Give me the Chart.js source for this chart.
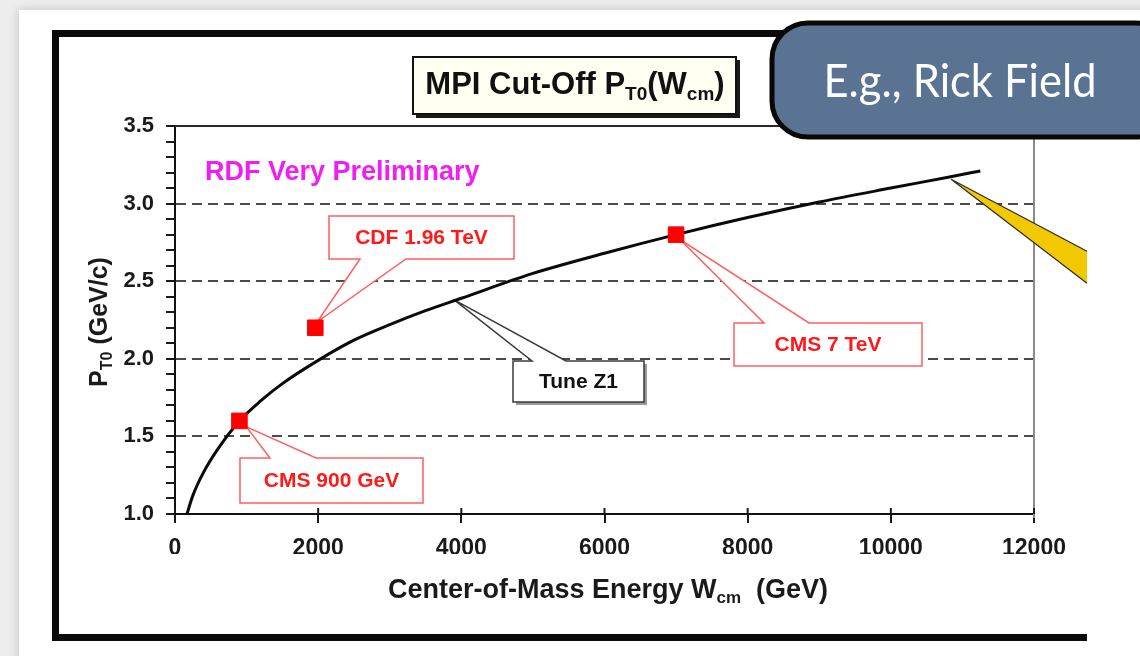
<!DOCTYPE html>
<html>
<head>
<meta charset="utf-8">
<script src="https://cdn.jsdelivr.net/npm/chart.js@4.4.1/dist/chart.umd.min.js"></script>
<style>
  html, body { margin: 0; padding: 0; background: #ffffff; }
  #cv { display: block; }
</style>
</head>
<body>
<canvas id="cv" width="1140" height="656"></canvas>
<script>
// Tune Z1 curve (GeV, GeV/c)
var tuneEnergy = [167, 250, 400, 600, 900, 1200, 1500, 2000, 2500, 3000, 3500, 4000, 5000, 6000, 7000, 8000, 9000, 10000, 10800, 11250];
var tunePt = [1.00, 1.12, 1.27, 1.42, 1.60, 1.73, 1.84, 1.99, 2.12, 2.22, 2.31, 2.39, 2.55, 2.68, 2.80, 2.91, 3.01, 3.10, 3.17, 3.21];

// measured points (red squares)
var measLabels = ['CMS 900 GeV', 'CDF 1.96 TeV', 'CMS 7 TeV'];
var measEnergy = [900, 1960, 7000];
var measPt = [1.6, 2.2, 2.8];

// axes
var xTicks = [0, 2000, 4000, 6000, 8000, 10000, 12000];
var yTicks = [1.0, 1.5, 2.0, 2.5, 3.0, 3.5];
var yDashed = [1.5, 2.0, 2.5, 3.0];

var FONT = '"Liberation Sans", Arial, Helvetica, sans-serif';

function isMajor(v) {
    return yTicks.some(function(t) { return Math.abs(t - v) < 1e-6; });
}
function isDashed(v) {
    return yDashed.some(function(t) { return Math.abs(t - v) < 1e-6; });
}

// text with subscripts: parts = [[text, isSub], ...]
function drawParts(ctx, parts, x, y, size, align, color) {
    var total = 0;
    parts.forEach(function(p) {
        ctx.font = 'bold ' + (p[1] ? Math.round(size * 0.62) : size) + 'px ' + FONT;
        total += ctx.measureText(p[0]).width;
    });
    var cx = align === 'center' ? x - total / 2 : x;
    ctx.fillStyle = color;
    ctx.textAlign = 'left';
    ctx.textBaseline = 'alphabetic';
    parts.forEach(function(p) {
        ctx.font = 'bold ' + (p[1] ? Math.round(size * 0.62) : size) + 'px ' + FONT;
        ctx.fillText(p[0], cx, p[1] ? y + size * 0.2 : y);
        cx += ctx.measureText(p[0]).width;
    });
}

// callout box with a wedge pointing at (tx, ty)
function callout(ctx, box, w1, w2, side, tx, ty, stroke, text, textColor) {
    var l = box[0], t = box[1], r = box[2], b = box[3];
    ctx.beginPath();
    if (side === 'top') {
        ctx.moveTo(l, t); ctx.lineTo(w1, t); ctx.lineTo(tx, ty); ctx.lineTo(w2, t);
        ctx.lineTo(r, t); ctx.lineTo(r, b); ctx.lineTo(l, b);
    } else {
        ctx.moveTo(l, t); ctx.lineTo(r, t); ctx.lineTo(r, b); ctx.lineTo(w2, b);
        ctx.lineTo(tx, ty); ctx.lineTo(w1, b); ctx.lineTo(l, b);
    }
    ctx.closePath();
    ctx.fillStyle = '#ffffff';
    ctx.fill();
    ctx.lineWidth = 1.5;
    ctx.strokeStyle = stroke;
    ctx.stroke();
    ctx.font = 'bold 21px ' + FONT;
    ctx.fillStyle = textColor;
    ctx.textAlign = 'center';
    ctx.textBaseline = 'middle';
    ctx.fillText(text, (l + r) / 2, (t + b) / 2 + 1);
}

var decor = {
    id: 'decor',
    beforeDraw: function(chart) {
        var ctx = chart.ctx;
        ctx.save();
        // slide background with soft edge
        ctx.fillStyle = '#ededed';
        ctx.fillRect(0, 0, 1140, 656);
        ctx.shadowColor = 'rgba(0,0,0,0.18)';
        ctx.shadowBlur = 10;
        ctx.fillStyle = '#ffffff';
        ctx.fillRect(19, 10, 1140, 660);
        ctx.restore();
        // black frame of the pasted figure
        ctx.save();
        ctx.fillStyle = '#0a0a0a';
        ctx.fillRect(52, 30, 7, 611);
        ctx.fillRect(52, 30, 760, 7);
        ctx.fillRect(52, 634, 1035, 7);
        ctx.restore();
    },
    beforeDatasetsDraw: function(chart) {
        var ctx = chart.ctx, a = chart.chartArea;
        var xs = chart.scales.x, ys = chart.scales.y;
        ctx.save();
        // top and right plot borders
        ctx.lineWidth = 2;
        ctx.strokeStyle = '#2a2a2a';
        ctx.beginPath(); ctx.moveTo(a.left, a.top); ctx.lineTo(a.right, a.top); ctx.stroke();
        ctx.strokeStyle = '#8a8a8a';
        ctx.beginPath(); ctx.moveTo(a.right, a.top); ctx.lineTo(a.right, a.bottom + 4); ctx.stroke();
        // x ticks also poke above the axis
        ctx.strokeStyle = '#1a1a1a';
        xTicks.forEach(function(v) {
            var px = xs.getPixelForValue(v);
            ctx.beginPath(); ctx.moveTo(px, a.bottom - 6); ctx.lineTo(px, a.bottom); ctx.stroke();
        });
        // callouts, tips anchored on the data
        var red = 'rgb(255,95,95)', redText = 'rgb(255,25,25)';
        var p0x = xs.getPixelForValue(measEnergy[0]), p0y = ys.getPixelForValue(measPt[0]);
        var p1x = xs.getPixelForValue(measEnergy[1]), p1y = ys.getPixelForValue(measPt[1]);
        var p2x = xs.getPixelForValue(measEnergy[2]), p2y = ys.getPixelForValue(measPt[2]);
        callout(ctx, [240, 458, 423, 503], 270, 316, 'top', p0x + 7, p0y + 6, red, measLabels[0], redText);
        callout(ctx, [329, 216, 514, 259], 360, 406, 'bottom', p1x + 2, p1y - 6, red, measLabels[1], redText);
        callout(ctx, [734, 323, 922, 366], 764, 809, 'top', p2x + 4, p2y + 5, red, measLabels[2], redText);
        // Tune Z1 callout with grey shadow
        var tx = xs.getPixelForValue(3900), ty = ys.getPixelForValue(2.38);
        ctx.fillStyle = '#9a9a9a';
        ctx.fillRect(516, 364, 131, 41);
        callout(ctx, [513, 361, 644, 402], 532, 566, 'top', tx, ty, '#3a3a3a', 'Tune Z1', '#111111');
        ctx.restore();
    },
    afterDatasetsDraw: function(chart) {
        var ctx = chart.ctx;
        var xs = chart.scales.x, ys = chart.scales.y;
        // yellow arrow pointing at the curve
        var tx = xs.getPixelForValue(10800) + 3, ty = ys.getPixelForValue(3.17) + 2;
        ctx.save();
        ctx.beginPath();
        ctx.moveTo(tx, ty);
        ctx.lineTo(1087, ty + 72);
        ctx.lineTo(1087, ty + 104);
        ctx.closePath();
        ctx.fillStyle = '#f2c900';
        ctx.fill();
        ctx.lineWidth = 1.2;
        ctx.strokeStyle = '#2a2a2a';
        ctx.beginPath();
        ctx.moveTo(1087, ty + 72); ctx.lineTo(tx, ty); ctx.lineTo(1087, ty + 104);
        ctx.stroke();
        ctx.restore();
    },
    afterDraw: function(chart) {
        var ctx = chart.ctx;
        ctx.save();
        // title box
        ctx.fillStyle = '#1a1a1a';
        ctx.fillRect(416, 60, 324, 58);
        ctx.fillStyle = '#fffff2';
        ctx.fillRect(413, 57, 323, 57);
        ctx.lineWidth = 2;
        ctx.strokeStyle = '#111111';
        ctx.strokeRect(413, 57, 323, 57);
        drawParts(ctx, [['MPI Cut-Off P', false], ['T0', true], ['(W', false], ['cm', true], [')', false]],
            575, 94, 31, 'center', '#111111');
        // watermark
        ctx.font = 'bold 27px ' + FONT;
        ctx.fillStyle = '#f01ef0';
        ctx.textAlign = 'left';
        ctx.textBaseline = 'alphabetic';
        ctx.fillText('RDF Very Preliminary', 205, 180);
        // axis titles
        drawParts(ctx, [['Center-of-Mass Energy W', false], ['cm', true], ['  (GeV)', false]],
            608, 598, 27, 'center', '#1a1a1a');
        ctx.save();
        ctx.translate(107, 322);
        ctx.rotate(-Math.PI / 2);
        drawParts(ctx, [['P', false], ['T0', true], [' (GeV/c)', false]], 0, 0, 25, 'center', '#1a1a1a');
        ctx.restore();
        // "E.g., Rick Field" label
        ctx.beginPath();
        ctx.roundRect(772, 23, 400, 114, 36);
        ctx.fillStyle = '#5a7392';
        ctx.fill();
        ctx.lineWidth = 5;
        ctx.strokeStyle = '#080808';
        ctx.stroke();
        ctx.font = '47px Lato, "Open Sans", sans-serif';
        var w = ctx.measureText('E.g., Rick Field').width;
        ctx.translate(960, 97);
        ctx.scale(273 / w, 1);
        ctx.fillStyle = '#ffffff';
        ctx.textAlign = 'center';
        ctx.textBaseline = 'alphabetic';
        ctx.fillText('E.g., Rick Field', 0, 0);
        ctx.restore();
    }
};

window.onload = function() {
    var tunePoints = tuneEnergy.map(function(e, i) { return { x: e, y: tunePt[i] }; });
    var measPoints = measEnergy.map(function(e, i) { return { x: e, y: measPt[i] }; });

    var config = {
        type: 'scatter',
        data: {
            datasets: [{
                label: 'Tune Z1',
                data: tunePoints,
                showLine: true,
                borderColor: '#0a0a0a',
                borderWidth: 3,
                pointRadius: 0,
                cubicInterpolationMode: 'monotone',
                order: 2
            }, {
                label: 'Data',
                data: measPoints,
                pointStyle: 'rect',
                pointRadius: 11,
                pointBackgroundColor: '#ff0000',
                pointBorderColor: '#ff0000',
                pointBorderWidth: 1,
                order: 1
            }]
        },
        options: {
            responsive: false,
            devicePixelRatio: 1,
            animation: false,
            events: [],
            layout: { padding: { left: 115, right: 106, top: 126, bottom: 102 } },
            plugins: { legend: { display: false }, tooltip: { enabled: false } },
            scales: {
                x: {
                    type: 'linear',
                    min: 0,
                    max: 12000,
                    afterFit: function(s) { s.height = 40; },
                    afterBuildTicks: function(s) { s.ticks = xTicks.map(function(v) { return { value: v }; }); },
                    ticks: {
                        font: { family: FONT, size: 23, weight: 'bold' },
                        color: '#1a1a1a',
                        padding: 12,
                        maxRotation: 0,
                        callback: function(v) { return String(v); }
                    },
                    grid: { drawOnChartArea: false, tickLength: 9, tickColor: '#1a1a1a', lineWidth: 2 },
                    border: { display: true, color: '#111111', width: 2 }
                },
                y: {
                    type: 'linear',
                    min: 1.0,
                    max: 3.5,
                    afterFit: function(s) { s.width = 60; },
                    ticks: {
                        stepSize: 0.1,
                        autoSkip: false,
                        font: { family: FONT, size: 22, weight: 'bold' },
                        color: '#1a1a1a',
                        padding: 12,
                        callback: function(v) { return isMajor(v) ? v.toFixed(1) : ''; }
                    },
                    grid: {
                        color: function(c) { return c.tick && isDashed(c.tick.value) ? '#4a4a4a' : 'rgba(0,0,0,0)'; },
                        lineWidth: 2,
                        tickLength: 9,
                        tickColor: '#1a1a1a',
                        tickWidth: 2
                    },
                    border: { display: true, color: '#111111', width: 2, dash: [10, 6] }
                }
            }
        },
        plugins: [decor]
    };
    var myChart = new Chart(document.getElementById('cv'), config);
};
</script>
</body>
</html>
